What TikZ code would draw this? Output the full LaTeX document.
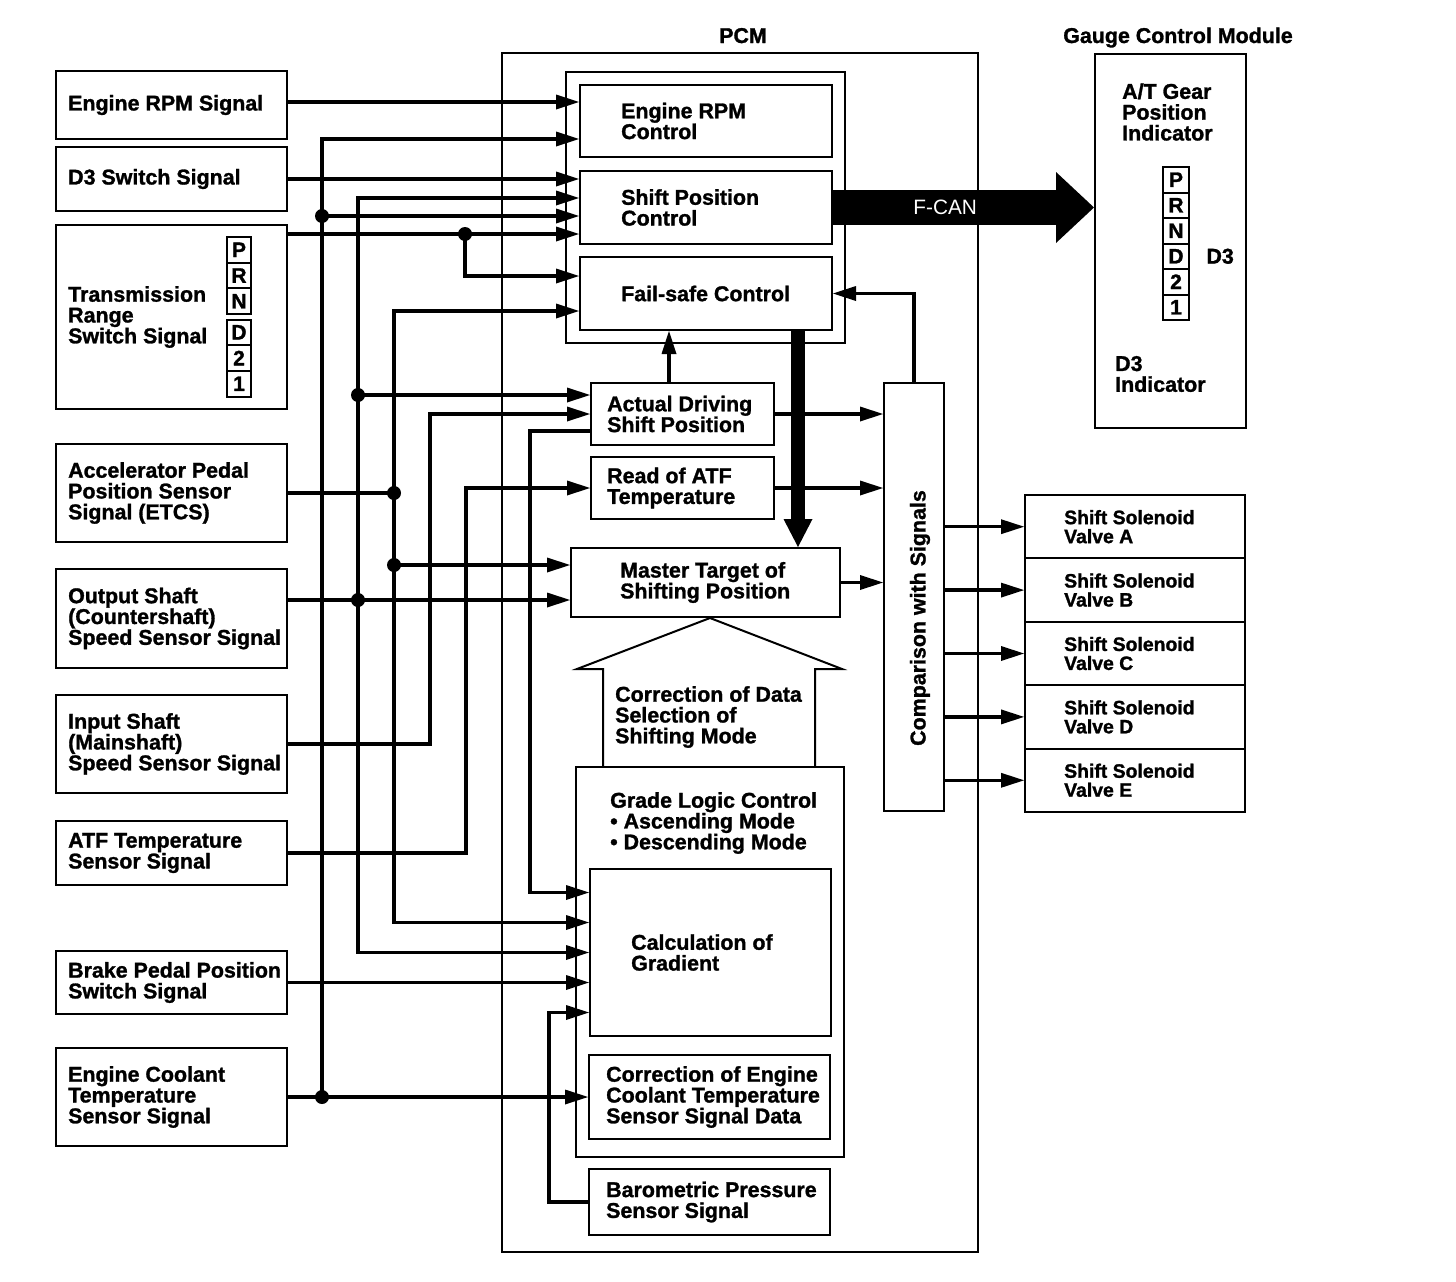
\documentclass[tikz,border=0pt]{standalone}
\usepackage{fontspec}
\setmainfont{Liberation Sans}[BoldFeatures={FakeBold=1.3}]
\usetikzlibrary{arrows.meta}
\usetikzlibrary{positioning}

\begin{document}
\begin{tikzpicture}[x=1pt, y=-1pt,
    box/.style={draw, line width=2pt, inner sep=0pt},
    txt/.style={inner sep=0pt, align=left, font=\bfseries\fontsize{21.4}{20.8}\selectfont},
    vtxt/.style={inner sep=0pt, align=left, font=\bfseries\fontsize{19.4}{19}\selectfont},
    ttl/.style={inner sep=0pt, font=\bfseries\fontsize{21.4}{21}\selectfont},
    cell/.style={draw, line width=2pt, inner sep=0pt, font=\bfseries\fontsize{21}{21}\selectfont},
    sig/.style={line width=3.3pt, -{Triangle[length=23pt,width=15pt,line width=0pt]}},
    wire/.style={line width=3.3pt},
    jdot/.style={circle, fill, inner sep=0pt, minimum size=14pt}]
    \useasboundingbox (0,0) rectangle (1456,1282);

    \node[box, minimum width=231, minimum height=68] (rpmsig) at (171.5,105) {};
    \node[txt, right=13pt of rpmsig.west] (rpmsigt) {Engine RPM Signal};
    \node[box, minimum width=231, minimum height=64] (dthree) at (171.5,179) {};
    \node[txt, right=13pt of dthree.west] (dthreet) {D3 Switch Signal};
    \node[box, minimum width=231, minimum height=184] (trsig) at (171.5,317) {};
    \node[txt, right=13pt of trsig.west] (trsigt) {Transmission\\Range\\Switch Signal};
    \node[box, minimum width=231, minimum height=98] (apsig) at (171.5,493) {};
    \node[txt, right=13pt of apsig.west] (apsigt) {Accelerator Pedal\\Position Sensor\\Signal (ETCS)};
    \node[box, minimum width=231, minimum height=99] (ossig) at (171.5,618.5) {};
    \node[txt, right=13pt of ossig.west] (ossigt) {Output Shaft\\(Countershaft)\\Speed Sensor Signal};
    \node[box, minimum width=231, minimum height=98] (issig) at (171.5,744) {};
    \node[txt, right=13pt of issig.west] (issigt) {Input Shaft\\(Mainshaft)\\Speed Sensor Signal};
    \node[box, minimum width=231, minimum height=64] (atfsig) at (171.5,853) {};
    \node[txt, right=13pt of atfsig.west] (atfsigt) {ATF Temperature\\Sensor Signal};
    \node[box, minimum width=231, minimum height=63] (bpsig) at (171.5,982.5) {};
    \node[txt, right=13pt of bpsig.west] (bpsigt) {Brake Pedal Position\\Switch Signal};
    \node[box, minimum width=231, minimum height=98] (ectsig) at (171.5,1097) {};
    \node[txt, right=13pt of ectsig.west] (ectsigt) {Engine Coolant\\Temperature\\Sensor Signal};

    \foreach \l [count=\i from 0] in {P,R,N}
        \node[cell, minimum width=24, minimum height=25.7] (trc\l) at (239,249.85+25.7*\i) {\l};
    \foreach \l [count=\i from 0] in {D,2,1}
        \node[cell, minimum width=24, minimum height=25.7] (trc\l) at (239,332.35+25.7*\i) {\l};

    \node[box, line width=1.8pt, minimum width=476, minimum height=1199] (pcm) at (740,652.5) {};
    \node[ttl, anchor=base] (pcmt) at (743,43) {PCM};
    \node[box, line width=1.8pt, minimum width=279, minimum height=271] (grp) at (705.5,207.5) {};

    \node[box, minimum width=252, minimum height=72] (rpmctl) at (706,121) {};
    \node[txt, right=42pt of rpmctl.west] (rpmctlt) {Engine RPM\\Control};
    \node[box, minimum width=252, minimum height=73] (spctl) at (706,207.5) {};
    \node[txt, right=42pt of spctl.west] (spctlt) {Shift Position\\Control};
    \node[box, minimum width=252, minimum height=73] (fsctl) at (706,293.5) {};
    \node[txt, right=42pt of fsctl.west] (fsctlt) {Fail-safe Control};

    \node[box, minimum width=183, minimum height=62] (adsp) at (682.5,414) {};
    \node[txt, right=17pt of adsp.west] (adspt) {Actual Driving\\Shift Position};
    \node[box, minimum width=183, minimum height=62] (ratf) at (682.5,488) {};
    \node[txt, right=17pt of ratf.west] (ratft) {Read of ATF\\Temperature};
    \node[box, minimum width=269, minimum height=69] (mtsp) at (705.5,582.5) {};
    \node[txt, right=50pt of mtsp.west] (mtspt) {Master Target of\\Shifting Position};

    \node[box, minimum width=268, minimum height=390] (glc) at (710,962) {};
    \node[txt, anchor=west] (glct) at (610,823) {Grade Logic Control\\• Ascending Mode\\• Descending Mode};
    \node[box, minimum width=241, minimum height=167] (calcg) at (710.5,952.5) {};
    \node[txt, right=42pt of calcg.west] (calcgt) {Calculation of\\Gradient};
    \node[box, minimum width=241, minimum height=84] (cect) at (709.5,1097) {};
    \node[txt, right=18pt of cect.west] (cectt) {Correction of Engine\\Coolant Temperature\\Sensor Signal Data};
    \node[box, minimum width=241, minimum height=66] (baro) at (709.5,1202) {};
    \node[txt, right=18pt of baro.west] (barot) {Barometric Pressure\\Sensor Signal};

    \draw[line width=2pt] (603,0 |- glc.north) -- (603,669) -- (577,669) -- (710,0 |- mtsp.south)
        -- (842,669) -- (815,669) -- (815,0 |- glc.north);
    \node[txt, anchor=west] (corr) at (615,717) {Correction of Data\\Selection of\\Shifting Mode};

    \node[box, minimum width=60, minimum height=428] (cmp) at (914,597) {};
    \node[txt, rotate=90] (cmpt) at (920,618) {Comparison with Signals};

    \node[box, minimum width=151, minimum height=374] (gcm) at (1170.5,241) {};
    \node[ttl, anchor=base] (gcmt) at (1178,43) {Gauge Control Module};
    \node[txt, anchor=west] (gpi) at (1122,112) {A/T Gear\\Position\\Indicator};
    \foreach \l [count=\i from 0] in {P,R,N,D,2,1}
        \node[cell, minimum width=26.5, minimum height=25.5] (gc\l) at (1176,179.75+25.5*\i) {\l};
    \node[txt, right=16pt of gcD.east] (gdthree) {D3};
    \node[txt, anchor=west] (gdi) at (1115,374) {D3\\Indicator};

    \node[jdot] (ect1) at (322,1097) {};
    \node[jdot] (ect2) at (322,216) {};
    \node[jdot] (os1) at (358,600) {};
    \node[jdot] (os2) at (358,395) {};
    \node[jdot] (ap1) at (394,493) {};
    \node[jdot] (ap2) at (394,565) {};
    \node[jdot] (tr1) at (465,234) {};

    \draw[sig] (rpmsig.east |- 0,102) -- (rpmctl.west |- 0,102);
    \draw[sig] (dthree.east) -- (spctl.west |- dthree.east);
    \draw[sig] (trsig.east |- tr1.center) -- (spctl.west |- tr1.center);
    \draw[sig] (tr1.center) |- (fsctl.west |- 0,276);

    \draw[sig] (ectsig.east) -- (cect.west |- ectsig.east);
    \draw[sig] (ect1.center) |- (rpmctl.west |- 0,139);
    \draw[sig] (ect2.center) -- (spctl.west |- ect2.center);

    \draw[sig] (ossig.east |- os1.center) -- (mtsp.west |- os1.center);
    \draw[sig] (os1.center) |- (spctl.west |- 0,198);
    \draw[sig] (os1.center) |- (calcg.west |- 0,952.5);
    \draw[sig] (os2.center) -- (adsp.west |- os2.center);

    \draw[wire] (apsig.east) -- (ap1.center);
    \draw[sig] (ap1.center) |- (fsctl.west |- 0,311);
    \draw[sig] (ap1.center) |- (calcg.west |- 0,922.5);
    \draw[sig] (ap2.center) -- (mtsp.west |- ap2.center);

    \draw[sig] (issig.east) -| (430,414) -- (adsp.west);
    \draw[sig] (atfsig.east) -| (466,488) -- (ratf.west);
    \draw[sig] (bpsig.east) -- (calcg.west |- bpsig.east);

    \draw[sig] (adsp.west |- 0,431) -| (530,892.5) -- (calcg.west |- 0,892.5);
    \draw[sig] (baro.west) -| (549,1012.5) -- (calcg.west |- 0,1012.5);
    \draw[sig] (669,0 |- adsp.north) -- (669,0 |- fsctl.south);
    \draw[sig] (adsp.east) -- (cmp.west |- adsp.east);
    \draw[sig] (ratf.east) -- (cmp.west |- ratf.east);
    \draw[sig] (mtsp.east) -- (cmp.west |- mtsp.east);
    \draw[sig] (cmp.north) |- (fsctl.east);

    \draw[line width=14pt, -{Triangle[length=28pt,width=29pt,line width=0pt]}]
        (fsctl.south -| 798,0) -- (mtsp.north -| 798,0);
    \draw[line width=35pt, -{Triangle[length=38pt,width=71pt,line width=0pt]}]
        (spctl.east) -- (gcm.west |- spctl.east)
        node[pos=0.43, text=white, font=\fontsize{20.8}{21}\selectfont] (fcan) {F-CAN};

    \foreach \v [count=\i from 0] in {A,B,C,D,E} {
        \node[box, minimum width=220, minimum height=63.4] (sv\v) at (1135,526.7+63.4*\i) {};
        \node[vtxt, right=40pt of sv\v.west] (svt\v) {Shift Solenoid\\Valve \v};
        \draw[sig] (cmp.east |- sv\v.west) -- (sv\v.west);
    }
\end{tikzpicture}
\end{document}
